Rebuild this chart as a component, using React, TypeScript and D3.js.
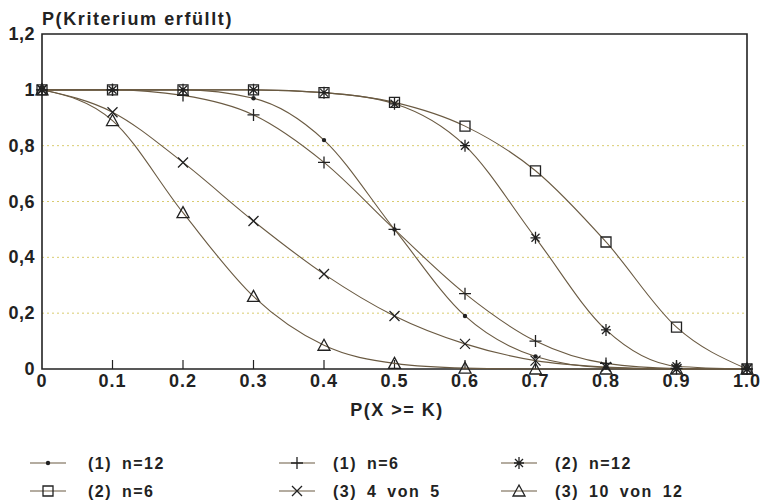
import React, { useEffect, useRef } from "react";
import * as d3 from "d3";

// p values along the x axis
const pValues = [0, 0.1, 0.2, 0.3, 0.4, 0.5, 0.6, 0.7, 0.8, 0.9, 1.0];
const xTickLabels = ["0", "0.1", "0.2", "0.3", "0.4", "0.5", "0.6", "0.7", "0.8", "0.9", "1.0"];
const yTicks = [0, 0.2, 0.4, 0.6, 0.8, 1, 1.2];
const yTickLabels = ["0", "0,2", "0,4", "0,6", "0,8", "1", "1,2"];
const gridTicks = [0.2, 0.4, 0.6, 0.8];

// series
const k1n12 = [1, 1, 1, 0.97, 0.82, 0.5, 0.19, 0.045, 0.005, 0, 0];
const k1n6 = [1, 1, 0.98, 0.91, 0.74, 0.5, 0.27, 0.1, 0.02, 0.002, 0];
const k2n12 = [1, 1, 1, 1, 0.99, 0.95, 0.8, 0.47, 0.14, 0.01, 0];
const k2n6 = [1, 1, 1, 1, 0.99, 0.955, 0.87, 0.71, 0.455, 0.15, 0];
const k3v5 = [1, 0.92, 0.74, 0.53, 0.34, 0.19, 0.09, 0.03, 0.007, 0, 0];
const k3v12 = [1, 0.89, 0.56, 0.26, 0.085, 0.02, 0.003, 0, 0, 0, 0];

const seriesNames = ["(1) n=12", "(1) n=6", "(2) n=12", "(2) n=6", "(3) 4 von 5", "(3) 10 von 12"];
const seriesValues = [k1n12, k1n6, k2n12, k2n6, k3v5, k3v12];
const seriesMarkers = ["dot", "plus", "star", "square", "cross", "triangle"];

const INK = "#222";
const CURVE = "#6a5a42";
const FONT = "'Liberation Sans', Arial, sans-serif";

function drawMarker(g: any, type: string, x: number, y: number) {
  const m = g.append("g").attr("transform", `translate(${x},${y})`);
  if (type === "dot") {
    m.append("circle").attr("r", 2.2).attr("fill", INK);
    return;
  }
  let d = "";
  if (type === "plus") d = "M-6,0H6M0,-6V6";
  if (type === "star") d = "M-5,0H5M0,-6V6M-4,-4L4,4M-4,4L4,-4";
  if (type === "square") d = "M-5,-5H5V5H-5Z";
  if (type === "cross") d = "M-5,-5L5,5M-5,5L5,-5";
  if (type === "triangle") d = "M0,-6L6,5H-6Z";
  m.append("path").attr("d", d).attr("fill", "none").attr("stroke", INK).attr("stroke-width", 1.3);
}

export default function App() {
  const ref = useRef<SVGSVGElement>(null);

  useEffect(() => {
    const svg = d3.select(ref.current);
    svg.selectAll("*").remove();

    const x = d3.scaleLinear().domain([0, 1]).range([42, 747]);
    const y = d3.scaleLinear().domain([0, 1.2]).range([369, 34]);

    // dotted grid lines
    svg
      .append("g")
      .selectAll("line")
      .data(gridTicks)
      .join("line")
      .attr("x1", x(0))
      .attr("x2", x(1))
      .attr("y1", (d) => y(d))
      .attr("y2", (d) => y(d))
      .attr("stroke", "#d9cc70")
      .attr("stroke-width", 1)
      .attr("stroke-dasharray", "2,3");

    // frame
    svg
      .append("path")
      .attr("d", `M${x(0)},${y(0)}V${y(1.2)}H${x(1)}V${y(0)}Z`)
      .attr("fill", "none")
      .attr("stroke", INK)
      .attr("stroke-width", 1.6);

    // x ticks inside
    svg
      .append("g")
      .selectAll("line")
      .data(pValues.slice(1, -1))
      .join("line")
      .attr("x1", (d) => x(d))
      .attr("x2", (d) => x(d))
      .attr("y1", y(0))
      .attr("y2", y(0) - 9)
      .attr("stroke", INK)
      .attr("stroke-width", 1.2);

    svg
      .append("g")
      .selectAll("text")
      .data(pValues)
      .join("text")
      .attr("x", (d) => x(d))
      .attr("y", 387)
      .attr("text-anchor", "middle")
      .attr("font-family", FONT)
      .attr("font-weight", "bold")
      .attr("font-size", 18)
      .attr("letter-spacing", 1)
      .attr("fill", INK)
      .text((d, i) => xTickLabels[i]);

    svg
      .append("g")
      .selectAll("text")
      .data(yTicks)
      .join("text")
      .attr("x", 35)
      .attr("y", (d) => y(d) + 6)
      .attr("text-anchor", "end")
      .attr("font-family", FONT)
      .attr("font-weight", "bold")
      .attr("font-size", 18)
      .attr("letter-spacing", 0.5)
      .attr("fill", INK)
      .text((d, i) => yTickLabels[i]);

    svg
      .append("text")
      .attr("x", 42)
      .attr("y", 25)
      .attr("font-family", FONT)
      .attr("font-weight", "bold")
      .attr("font-size", 18)
      .attr("letter-spacing", 1.6)
      .attr("fill", INK)
      .text("P(Kriterium erfüllt)");

    svg
      .append("text")
      .attr("x", 397)
      .attr("y", 416)
      .attr("text-anchor", "middle")
      .attr("font-family", FONT)
      .attr("font-weight", "bold")
      .attr("font-size", 18)
      .attr("letter-spacing", 1.5)
      .attr("fill", INK)
      .text("P(X >= K)");

    // curves
    const line = d3
      .line<number>()
      .x((d, i) => x(pValues[i]))
      .y((d) => y(d))
      .curve(d3.curveMonotoneX);

    seriesValues.forEach((vals) => {
      svg
        .append("path")
        .attr("d", line(vals))
        .attr("fill", "none")
        .attr("stroke", CURVE)
        .attr("stroke-width", 1.1);
    });

    // markers
    seriesValues.forEach((vals, s) => {
      const g = svg.append("g");
      vals.forEach((v, i) => drawMarker(g, seriesMarkers[s], x(pValues[i]), y(v)));
    });

    // legend
    const legCols = [48, 297, 519];
    const textCols = [88, 333, 555];
    const legRows = [463, 491];
    seriesNames.forEach((name, s) => {
      const col = s % 3;
      const row = Math.floor(s / 3);
      const cx = legCols[col];
      const cy = legRows[row];
      const g = svg.append("g");
      g.append("line")
        .attr("x1", cx - 18)
        .attr("x2", cx + 18)
        .attr("y1", cy)
        .attr("y2", cy)
        .attr("stroke", CURVE)
        .attr("stroke-width", 1.1);
      drawMarker(g, seriesMarkers[s], cx, cy);
      g.append("text")
        .attr("x", textCols[col])
        .attr("y", cy + 6)
        .attr("font-family", FONT)
        .attr("font-weight", "bold")
        .attr("font-size", 16)
        .attr("letter-spacing", 1.5)
        .attr("word-spacing", 4)
        .attr("fill", INK)
        .text(name);
    });
  }, []);

  return (
    <svg
      ref={ref}
      width={772}
      height={503}
      style={{ position: "absolute", left: 0, top: 0, background: "#fff" }}
    />
  );
}
